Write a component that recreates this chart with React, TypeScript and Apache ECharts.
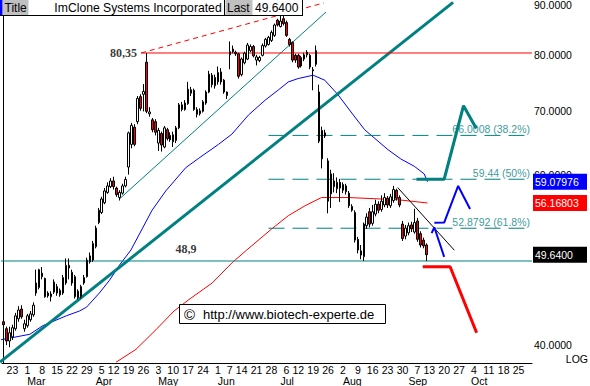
import React, { useEffect, useRef } from "react";
import * as echarts from "echarts";

// ---------- calendar ----------
const FIRST_DAY = "2004-02-18";
const LAST_DAY = "2004-10-29";
const HOLIDAYS = ["2004-04-09", "2004-05-31", "2004-06-11", "2004-07-05", "2004-09-06"];
const MONTHS = ["Jan", "Feb", "Mar", "Apr", "May", "Jun", "Jul", "Aug", "Sep", "Oct", "Nov", "Dec"];

// ---------- candles ----------
const opens = [
  42.3, 41.6, 40.4, 40.8, 41.6, 42.6, 43.6, 41.6, 41.9, 42.5,
  43.0, 45.3, 45.9, 47.5, 46.9, 45.3, 44.9, 45.4, 46.0, 45.1,
  45.3, 46.4, 48.4, 47.6, 47.1, 45.5, 44.9, 46.4, 47.1, 48.8,
  49.0, 50.6, 53.6, 54.9, 56.2, 57.6, 58.4, 59.2, 58.2, 56.9,
  57.5, 58.5, 61.2, 64.6, 67.3, 68.2, 72.4, 72.8, 78.6, 69.5,
  68.5, 68.2, 64.8, 66.3, 64.2, 66.9, 66.0, 65.0, 65.2, 67.2,
  71.0, 70.2, 71.2, 73.0, 73.5, 70.2, 69.5, 69.9, 71.3, 73.2,
  76.2, 74.3, 75.0, 76.8, 75.3, 73.2, 80.0, 81.1, 80.5, 80.2,
  76.3, 78.5, 79.2, 80.8, 81.6, 79.0, 78.9, 79.9, 81.7, 82.0,
  82.8, 83.8, 86.9, 85.6, 87.2, 86.4, 83.0, 82.4, 79.9, 79.9,
  77.9, 79.2, 80.5, 79.9, 77.2, 78.2, 73.2, 62.4, 66.4, 62.1,
  57.4, 59.2, 58.1, 59.0, 57.9, 58.5, 57.5, 55.7, 54.9, 51.5,
  50.1, 49.4, 53.2, 55.0, 53.5, 54.7, 56.0, 55.3, 55.9, 56.8,
  55.8, 56.5, 57.9, 56.9, 53.4, 51.9, 52.3, 53.3, 52.4, 53.8,
  52.2, 51.4, 50.8,
];
const highs = [
  42.5, 41.8, 41.8, 42.0, 43.2, 43.9, 44.0, 42.5, 43.1, 43.4,
  44.3, 47.9, 48.0, 48.2, 47.0, 45.5, 45.5, 46.8, 46.3, 45.8,
  47.3, 49.2, 49.2, 47.9, 47.3, 45.7, 46.2, 47.3, 49.3, 49.9,
  51.3, 53.2, 55.5, 57.0, 58.2, 59.0, 59.6, 59.8, 58.4, 57.9,
  58.8, 59.8, 66.6, 68.0, 67.8, 72.5, 72.8, 74.6, 80.35, 70.6,
  68.8, 68.6, 67.2, 66.6, 67.5, 67.2, 66.5, 66.6, 67.5, 71.3,
  71.5, 71.8, 75.0, 74.1, 73.8, 70.6, 70.4, 71.8, 73.5, 77.0,
  76.6, 76.3, 77.8, 77.5, 75.5, 73.3, 82.6, 81.8, 80.8, 80.4,
  79.5, 80.6, 82.3, 82.0, 81.9, 80.0, 79.8, 82.2, 83.3, 83.7,
  84.8, 86.2, 87.2, 87.8, 87.9, 86.8, 83.3, 82.6, 80.2, 80.2,
  79.8, 80.4, 80.9, 80.2, 77.7, 81.8, 74.5, 67.4, 66.9, 62.5,
  60.8, 60.3, 59.7, 59.5, 59.0, 58.8, 57.8, 56.0, 55.2, 51.8,
  50.8, 53.6, 54.8, 55.5, 55.9, 56.6, 56.4, 57.2, 57.5, 57.1,
  57.4, 58.5, 58.1, 57.2, 53.8, 53.3, 53.6, 53.7, 55.4, 54.2,
  52.5, 51.7, 51.0,
];
const lows = [
  41.9, 40.0, 39.8, 40.5, 41.4, 42.3, 42.6, 41.3, 41.7, 42.3,
  42.8, 45.0, 45.7, 46.8, 44.8, 44.8, 44.4, 45.2, 45.0, 44.9,
  45.1, 46.2, 46.8, 46.1, 44.7, 44.6, 44.7, 46.2, 47.0, 48.6,
  48.8, 50.4, 53.4, 54.7, 56.0, 57.4, 58.2, 58.0, 57.0, 56.5,
  57.3, 58.3, 60.1, 64.0, 64.3, 67.8, 70.0, 69.9, 69.6, 69.0,
  66.5, 66.0, 63.6, 63.5, 64.0, 65.2, 65.0, 64.2, 64.8, 67.0,
  69.9, 70.0, 71.0, 72.5, 70.0, 68.9, 69.2, 69.7, 71.0, 73.0,
  74.0, 73.8, 74.5, 74.5, 72.9, 72.0, 77.3, 80.3, 79.8, 75.6,
  76.0, 78.2, 79.0, 80.5, 79.5, 78.0, 78.6, 79.7, 81.4, 81.8,
  82.5, 83.5, 85.6, 85.4, 85.8, 83.5, 81.6, 78.6, 78.5, 77.4,
  77.6, 78.8, 79.5, 77.3, 73.5, 77.8, 64.8, 61.0, 65.6, 54.8,
  55.5, 57.6, 57.5, 56.3, 57.5, 57.3, 55.5, 55.0, 51.1, 49.8,
  49.1, 48.9, 52.8, 53.0, 53.2, 54.4, 54.8, 55.0, 55.6, 55.5,
  55.5, 56.2, 56.5, 55.6, 51.3, 51.5, 52.0, 52.4, 52.2, 51.2,
  50.5, 50.4, 48.9,
];
const closes = [
  42.0, 40.4, 41.2, 41.7, 42.9, 43.5, 42.8, 42.1, 42.9, 43.1,
  44.0, 46.4, 47.9, 47.1, 44.9, 45.0, 45.2, 46.5, 45.3, 45.6,
  47.0, 48.4, 48.1, 46.4, 44.9, 44.8, 46.0, 47.0, 49.0, 49.5,
  51.0, 52.9, 55.2, 56.7, 57.8, 58.5, 59.2, 58.4, 57.3, 57.6,
  58.5, 59.4, 66.4, 67.6, 64.6, 72.1, 70.4, 73.3, 69.9, 69.8,
  66.9, 66.5, 66.8, 64.5, 67.2, 65.5, 65.3, 66.1, 67.2, 71.0,
  70.2, 71.3, 73.7, 73.6, 70.2, 69.4, 70.0, 71.5, 73.2, 76.4,
  74.5, 75.8, 76.7, 75.0, 73.2, 72.6, 80.6, 80.6, 80.2, 76.0,
  79.2, 80.3, 81.9, 81.6, 79.8, 79.6, 79.5, 81.8, 83.0, 83.4,
  84.4, 85.9, 85.9, 86.7, 86.2, 83.8, 82.0, 79.0, 79.0, 77.7,
  79.5, 80.0, 80.0, 77.7, 77.0, 80.8, 65.1, 66.8, 65.9, 56.4,
  60.2, 58.4, 59.0, 58.2, 58.7, 57.7, 55.8, 55.2, 51.4, 50.2,
  49.6, 53.4, 54.3, 53.4, 55.0, 56.0, 55.2, 56.4, 56.9, 55.9,
  57.0, 58.0, 56.8, 55.9, 51.6, 52.9, 53.2, 52.8, 53.6, 51.5,
  50.8, 50.7, 49.64,
];

// ---------- moving averages: [category position, value] ----------
const maBluePoints = [
  [-1.17, 40.5], [8.85, 41.05], [13.2, 41.9], [21.1, 42.9], [25.55, 43.4], [27.9, 43.8],
  [32.2, 45.3], [35.6, 46.7], [38.9, 48.4], [42.8, 50.2], [49.9, 55.2], [54.5, 57.8],
  [61.2, 61.1], [65.6, 62.5], [72.2, 64.6], [76.7, 66.2], [82.3, 69.3], [87.9, 71.8],
  [92.4, 73.6], [95.7, 75.0], [99.0, 75.6], [104.0, 76.2], [107.9, 75.3], [112.4, 72.7],
  [116.7, 69.8], [121.3, 66.9], [129.1, 63.8], [133.4, 62.4], [138.0, 61.3], [141.3, 60.2],
  [142.4, 59.08],
];
const maRedPoints = [
  [37.8, 38.4], [44.5, 39.6], [51.2, 41.5], [57.3, 43.4], [62.3, 44.6], [70.1, 46.4],
  [76.8, 48.7], [81.7, 50.2], [90.1, 52.8], [95.7, 54.5], [101.3, 55.8], [106.8, 56.9],
  [115.7, 56.9], [126.9, 56.7], [132.4, 56.6], [142.4, 56.168],
];

// ---------- drawn lines: [category position, price] ----------
const longTrend = [[-1.17, 38.41], [151, 90.68]];
const channelTrend = [[38.9, 56.69], [108.3, 88.6]];
const resistanceDash = [[46.2, 80.35], [107.6, 90.56]];
const highLevel = [[46.2, 80.35], [177.5, 80.35]];
const supportLevel = [[-1.17, 48.9], [177.5, 48.9]];
const downTrend = [[132.4, 58.27], [151.4, 50.18]];
const tealArrow = [[138.7, 59.44], [148.0, 59.44], [154.5, 70.84], [158.8, 67.1]];
const blueUpArrow = [[144.7, 53.57], [148.0, 53.6], [152.7, 58.5], [156.7, 55.37]];
const blueDownArrow = [[143.8, 52.27], [144.7, 53.0], [148.0, 49.39]];
const redArrow = [[140.8, 48.24], [150.0, 48.24], [158.9, 41.2]];

// ---------- fibonacci ----------
const fibLevels = [66.0008, 59.44, 52.8792];
const fibLabels = ["66.0008 (38.2%)", "59.44 (50%)", "52.8792 (61.8%)"];
const fibStart = 89;

// ---------- notes ----------
const notePoints = [[46.2, 80.35], [61.3, 48.9]];
const noteTexts = ["80,35", "48,9"];

// ---------- axis ----------
const yMin = 38.33;
const yMax = 90.56;
const yTicks = [40, 60, 70, 80, 90];
const priceTags = [59.07976, 56.16803, 49.64];
const priceTagTexts = ["59.07976", "56.16803", "49.6400"];
const priceTagColors = ["#0000ff", "#ff0000", "#000000"];

const SANS = "'Liberation Sans', Arial, sans-serif";
const SERIF = "'Liberation Serif', 'Times New Roman', serif";
const TEAL = "#008080";

function buildDates(): string[] {
  const out: string[] = [];
  const d = new Date(FIRST_DAY + "T00:00:00Z");
  const end = new Date(LAST_DAY + "T00:00:00Z");
  while (d.getTime() <= end.getTime()) {
    const wd = d.getUTCDay();
    const s = d.toISOString().slice(0, 10);
    if (wd !== 0 && wd !== 6 && HOLIDAYS.indexOf(s) < 0) out.push(s);
    d.setUTCDate(d.getUTCDate() + 1);
  }
  return out;
}

function buildOption() {
  const dates = buildDates();
  const parsed = dates.map((s) => new Date(s + "T00:00:00Z"));
  const dayLabels = parsed.map((d, i) =>
    i > 0 && d.getUTCDay() <= parsed[i - 1].getUTCDay() ? String(d.getUTCDate()) : ""
  );
  const monthLabels = parsed.map((d, i) =>
    i > 0 && d.getUTCMonth() !== parsed[i - 1].getUTCMonth() ? MONTHS[d.getUTCMonth()] : ""
  );
  const xMax = dates.length - 0.5;
  const candles = opens.map((o, i) => [o, closes[i], lows[i], highs[i]]);

  const lineSeries = (data: number[][], color: string, width: number, extra: any = {}) => ({
    type: "line",
    xAxisIndex: 2,
    yAxisIndex: 0,
    data,
    showSymbol: false,
    symbol: "none",
    silent: true,
    clip: false,
    color,
    lineStyle: { color, width, ...(extra.lineStyle || {}) },
    z: extra.z ?? 3,
  });

  const rich: any = {};
  priceTagColors.forEach((c, k) => {
    rich["t" + k] = {
      backgroundColor: c,
      color: "#fff",
      fontSize: 10.5,
      fontFamily: SANS,
      padding: [3, 4, 2, 2],
      width: 48,
      lineHeight: 12,
    };
  });

  const fibSeries = fibLevels.map((v) =>
    lineSeries([[fibStart, v], [xMax, v]], TEAL, 1, { z: 3, lineStyle: { type: [16, 8] } })
  );

  return {
    animation: false,
    backgroundColor: "#ffffff",
    grid: { left: 2, right: 55, top: 0, bottom: 22, containLabel: false },
    xAxis: [
      {
        type: "category",
        data: dates,
        boundaryGap: true,
        axisLine: { show: true, lineStyle: { color: "#000", width: 1 } },
        axisTick: { show: false },
        splitLine: { show: false },
        axisLabel: {
          interval: 0,
          formatter: (_v: string, i: number) => dayLabels[i],
          fontSize: 10.5,
          lineHeight: 10,
          fontFamily: SANS,
          color: "#000",
          margin: 1.5,
        },
      },
      {
        type: "category",
        data: dates,
        boundaryGap: true,
        position: "bottom",
        axisLine: { show: false },
        axisTick: { show: false },
        splitLine: { show: false },
        axisLabel: {
          interval: 0,
          formatter: (_v: string, i: number) => monthLabels[i],
          align: "left",
          fontSize: 10.5,
          lineHeight: 10,
          fontFamily: SANS,
          color: "#000",
          margin: 12.5,
        },
      },
      { type: "value", min: -0.5, max: xMax, show: false },
    ],
    yAxis: [
      {
        type: "log",
        logBase: 10,
        min: yMin,
        max: yMax,
        position: "right",
        axisLine: { show: true, lineStyle: { color: "#000", width: 1 } },
        axisTick: { show: false },
        splitLine: { show: false },
        axisLabel: {
          customValues: yTicks,
          formatter: (v: number) => Number(v).toFixed(4),
          fontSize: 10.5,
          fontFamily: SANS,
          color: "#000",
          margin: 2,
        },
      },
      {
        type: "log",
        logBase: 10,
        min: yMin,
        max: yMax,
        position: "right",
        axisLine: { show: false },
        axisTick: { show: false },
        splitLine: { show: false },
        axisLabel: {
          customValues: priceTags,
          formatter: (v: number) => {
            let k = 0;
            let best = Infinity;
            priceTags.forEach((p, j) => {
              const d = Math.abs(Math.log(p) - Math.log(v));
              if (d < best) {
                best = d;
                k = j;
              }
            });
            return "{t" + k + "|" + priceTagTexts[k] + "}";
          },
          rich,
          margin: 1,
        },
      },
    ],
    series: [
      lineSeries(maRedPoints, "#ff0000", 1, { z: 2 }),
      lineSeries(maBluePoints, "#0000ff", 1, { z: 2 }),
      lineSeries(longTrend, TEAL, 3, { z: 2 }),
      lineSeries(channelTrend, TEAL, 1, { z: 2 }),
      lineSeries(supportLevel, TEAL, 1, { z: 2 }),
      lineSeries(highLevel, "#ff0000", 1, { z: 2 }),
      lineSeries(resistanceDash, "#ff0000", 1, { z: 2, lineStyle: { type: [5, 4] } }),
      ...fibSeries,
      {
        type: "candlestick",
        xAxisIndex: 0,
        yAxisIndex: 0,
        data: candles,
        barWidth: 2,
        silent: true,
        z: 4,
        itemStyle: {
          color: "#ffffff",
          color0: "#ff0000",
          borderColor: "#000000",
          borderColor0: "#000000",
          borderWidth: 1,
        },
      },
      lineSeries(downTrend, "#000000", 1, { z: 5 }),
      {
        type: "scatter",
        xAxisIndex: 2,
        yAxisIndex: 0,
        symbolSize: 0,
        silent: true,
        z: 5,
        data: fibLevels.map((v, j) => ({ value: [xMax, v], name: fibLabels[j] })),
        label: {
          show: true,
          position: "left",
          distance: 2,
          offset: [0, -6.5],
          formatter: (p: any) => p.name,
          color: TEAL,
          fontSize: 10.5,
          fontFamily: SANS,
        },
      },
      lineSeries(tealArrow, TEAL, 3, { z: 6 }),
      lineSeries(blueUpArrow, "#0000ff", 2, { z: 6 }),
      lineSeries(blueDownArrow, "#0000ff", 2, { z: 6 }),
      lineSeries(redArrow, "#ff0000", 3, { z: 6 }),
      {
        type: "scatter",
        xAxisIndex: 2,
        yAxisIndex: 0,
        symbolSize: 0,
        silent: true,
        z: 7,
        data: notePoints.map((p, j) => ({
          value: p,
          name: noteTexts[j],
          label: j === 0 ? { position: "left", distance: 4 } : { position: "top", distance: 6 },
        })),
        label: {
          show: true,
          formatter: (p: any) => p.name,
          fontFamily: SERIF,
          fontWeight: "bold",
          fontSize: 12,
          color: "#000",
        },
      },
    ],
    graphic: [
      // copyright box
      {
        type: "rect",
        z: 100,
        shape: { x: 179.5, y: 304.5, width: 206, height: 19 },
        style: { fill: "#fff", stroke: "#000", lineWidth: 1 },
      },
      {
        type: "text",
        z: 101,
        x: 184,
        y: 314,
        style: { text: "©", font: "15px " + SANS, fill: "#000", textVerticalAlign: "middle" },
      },
      {
        type: "text",
        z: 101,
        x: 203,
        y: 314.5,
        style: { text: "http://www.biotech-experte.de", font: "13px " + SANS, fill: "#000", textVerticalAlign: "middle" },
      },
      // title bar
      { type: "rect", z: 100, shape: { x: 0, y: 0, width: 302, height: 15 }, style: { fill: "#fff" } },
      { type: "line", z: 101, shape: { x1: 0, y1: 15.5, x2: 303, y2: 15.5 }, style: { stroke: "#000", lineWidth: 1 } },
      { type: "line", z: 101, shape: { x1: 302.5, y1: 0, x2: 302.5, y2: 15.5 }, style: { stroke: "#000", lineWidth: 1 } },
      { type: "rect", z: 101, shape: { x: 0, y: 0, width: 2.5, height: 15 }, style: { fill: "#0000ff" } },
      { type: "rect", z: 101, shape: { x: 3, y: 0, width: 25.5, height: 15 }, style: { fill: "#c0c0c0" } },
      {
        type: "text",
        z: 102,
        x: 4.5,
        y: 7.5,
        style: { text: "Title", font: "12px " + SANS, fill: "#000", textVerticalAlign: "middle" },
      },
      {
        type: "text",
        z: 102,
        x: 138,
        y: 7.5,
        style: {
          text: "ImClone Systems Incorporated",
          font: "12.2px " + SANS,
          fill: "#000",
          textAlign: "center",
          textVerticalAlign: "middle",
        },
      },
      { type: "line", z: 101, shape: { x1: 224.5, y1: 0, x2: 224.5, y2: 15 }, style: { stroke: "#000", lineWidth: 1 } },
      { type: "rect", z: 101, shape: { x: 225.5, y: 0, width: 27, height: 15 }, style: { fill: "#c0c0c0" } },
      {
        type: "text",
        z: 102,
        x: 227,
        y: 7.5,
        style: { text: "Last", font: "12px " + SANS, fill: "#000", textVerticalAlign: "middle" },
      },
      {
        type: "text",
        z: 102,
        x: 255,
        y: 7.5,
        style: { text: "49.6400", font: "12px " + SANS, fill: "#000", textVerticalAlign: "middle" },
      },
      // LOG
      {
        type: "text",
        z: 102,
        right: 2,
        top: 353,
        style: { text: "LOG", font: "10.5px " + SANS, fill: "#000" },
      },
    ],
  };
}

export default function App() {
  const ref = useRef<HTMLDivElement>(null);
  useEffect(() => {
    document.body.style.margin = "0";
    const chart = echarts.init(ref.current!, null, { renderer: "svg" });
    chart.setOption(buildOption() as any);
    return () => chart.dispose();
  }, []);
  return <div ref={ref} style={{ width: 590, height: 386 }} />;
}
